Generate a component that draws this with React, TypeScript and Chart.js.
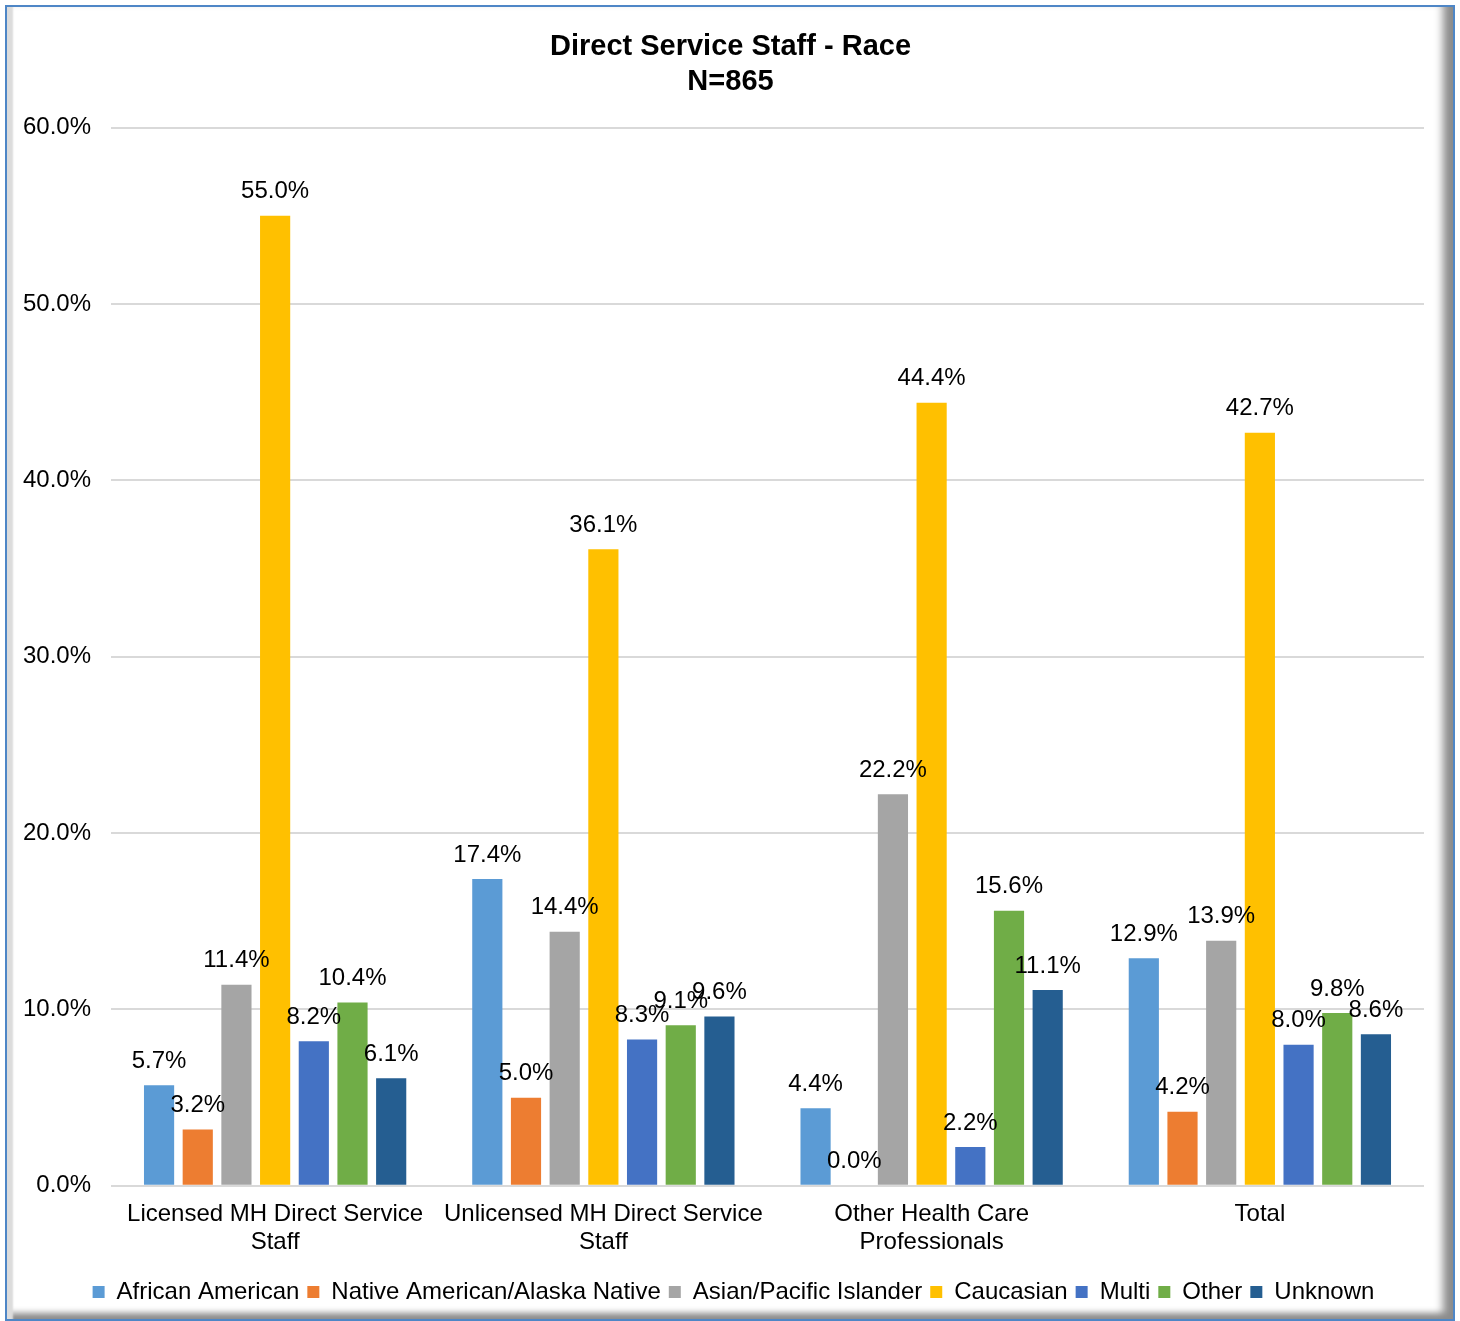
import React, { useEffect, useRef } from "react";
import { Chart, registerables } from "chart.js";

Chart.register(...registerables);

const categories: (string | string[])[] = [
  ["Licensed MH Direct Service", "Staff"],
  ["Unlicensed MH Direct Service", "Staff"],
  ["Other Health Care", "Professionals"],
  "Total",
];

const seriesNames = [
  "African American",
  "Native American/Alaska Native",
  "Asian/Pacific Islander",
  "Caucasian",
  "Multi",
  "Other",
  "Unknown",
];

const africanAmerican = [5.7, 17.4, 4.4, 12.9];
const nativeAmerican = [3.2, 5.0, 0.0, 4.2];
const asianPacific = [11.4, 14.4, 22.2, 13.9];
const caucasian = [55.0, 36.1, 44.4, 42.7];
const multi = [8.2, 8.3, 2.2, 8.0];
const other = [10.4, 9.1, 15.6, 9.8];
const unknown = [6.1, 9.6, 11.1, 8.6];

const seriesValues = [africanAmerican, nativeAmerican, asianPacific, caucasian, multi, other, unknown];
const seriesColors = ["#5B9BD5", "#ED7D31", "#A5A5A5", "#FFC000", "#4472C4", "#70AD47", "#255E91"];

const yTicks = [0, 10, 20, 30, 40, 50, 60];

const FONT = '"Liberation Sans", Arial, Helvetica, sans-serif';

const valueLabels = {
  id: "valueLabels",
  afterDatasetsDraw(chart: any) {
    const ctx = chart.ctx;
    ctx.save();
    ctx.font = `24px ${FONT}`;
    ctx.fillStyle = "#000";
    ctx.textAlign = "center";
    ctx.textBaseline = "middle";
    chart.data.datasets.forEach((ds: any, i: number) => {
      const meta = chart.getDatasetMeta(i);
      meta.data.forEach((el: any, j: number) => {
        const v = ds.data[j];
        ctx.fillText(v.toFixed(1) + "%", el.x, el.y - 24);
      });
    });
    ctx.restore();
  },
};

const boxShift = {
  id: "boxShift",
  afterLayout(chart: any) {
    if (chart.legend) {
      chart.legend.left += 10;
      chart.legend.right += 10;
    }
    if (chart.titleBlock) {
      chart.titleBlock.left += 7;
      chart.titleBlock.right += 7;
    }
  },
};

export default function App() {
  const ref = useRef<HTMLCanvasElement>(null);

  useEffect(() => {
    if (!ref.current) return;
    const chart = new Chart(ref.current, {
      type: "bar",
      data: {
        labels: categories,
        datasets: seriesNames.map((name, i) => ({
          label: name,
          data: seriesValues[i],
          backgroundColor: seriesColors[i],
          borderWidth: 0,
          categoryPercentage: 0.825,
          barPercentage: 0.78,
        })),
      },
      options: {
        responsive: false,
        animation: false,
        layout: { padding: { top: 17, left: 23, right: 36, bottom: 7 } },
        plugins: {
          title: {
            display: true,
            text: ["Direct Service Staff - Race", "N=865"],
            color: "#000",
            font: { family: FONT, size: 29, weight: "bold", lineHeight: 1.2 },
            padding: { top: 13, bottom: 28 },
          },
          legend: {
            position: "bottom",
            labels: {
              color: "#000",
              font: { family: FONT, size: 24 },
              boxWidth: 12,
              boxHeight: 12,
              padding: 8,
            },
          },
          tooltip: { enabled: false },
        },
        scales: {
          x: {
            grid: { display: false, drawTicks: false },
            border: { display: false },
            ticks: {
              color: "#000",
              font: { family: FONT, size: 24, lineHeight: 1.17 },
              padding: 14,
              maxRotation: 0,
              autoSkip: false,
            },
            afterFit: (scale: any) => {
              scale.height += 2;
            },
          },
          y: {
            min: yTicks[0],
            max: yTicks[yTicks.length - 1],
            border: { display: false },
            grid: { color: "#D9D9D9", lineWidth: 2, drawTicks: false },
            afterBuildTicks: (scale: any) => {
              scale.ticks = yTicks.map((v) => ({ value: v }));
            },
            afterFit: (scale: any) => {
              scale.width = 88;
            },
            ticks: {
              color: "#000",
              font: { family: FONT, size: 24 },
              padding: 20,
              callback: (v: any) => Number(v).toFixed(1) + "%",
            },
          },
        },
      },
      plugins: [valueLabels, boxShift],
    });
    return () => chart.destroy();
  }, []);

  return (
    <div
      style={{
        position: "absolute",
        left: 0,
        top: 0,
        width: 1460,
        height: 1321,
        background: "#fff",
        overflow: "hidden",
      }}
    >
      <div
        style={{
          position: "absolute",
          left: 5,
          top: 5,
          width: 1450,
          height: 1316,
          boxSizing: "border-box",
          border: "2px solid #4E86C6",
          boxShadow:
            "inset 9px 0 2px -3px #DCDCDC, inset -16px 0 8px -6px #8C8C8C, inset 0 -11px 6px -5px #8C8C8C",
        }}
      />
      <canvas
        ref={ref}
        width={1460}
        height={1321}
        style={{ position: "absolute", left: 0, top: 0, width: 1460, height: 1321 }}
      />
    </div>
  );
}
